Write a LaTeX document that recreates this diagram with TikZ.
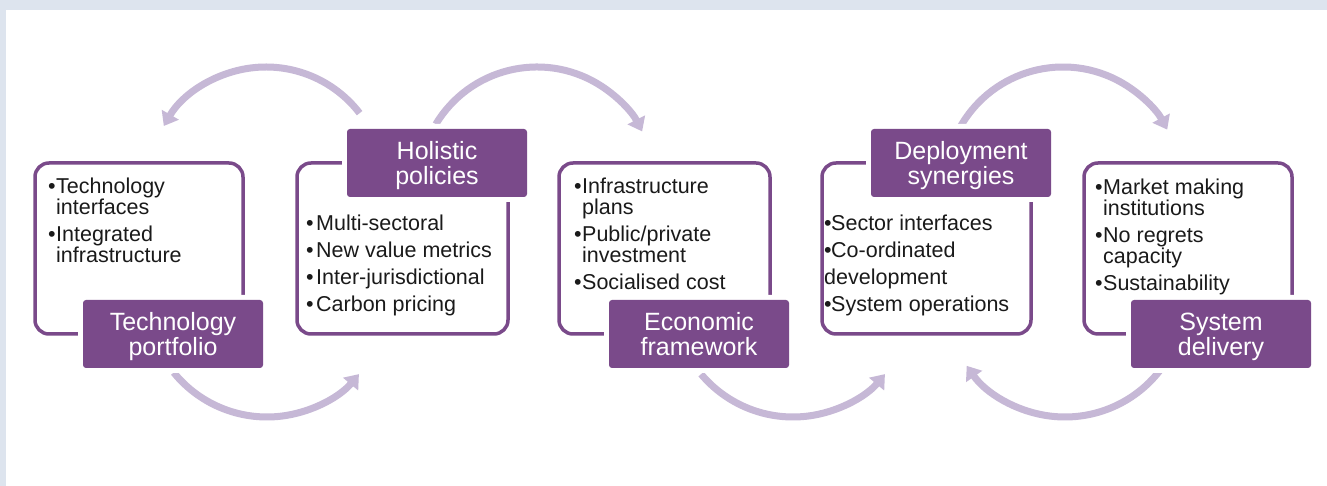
\documentclass[tikz,border=0pt]{standalone}
\usepackage{fontspec}
\setmainfont{Liberation Sans}
\usetikzlibrary{arrows.meta,calc}

\definecolor{plum}{RGB}{122,74,138}
\definecolor{lilac}{RGB}{198,184,214}
\definecolor{haze}{RGB}{221,228,238}
\definecolor{ink}{RGB}{26,26,26}

% bullet and hanging indent for the list lines
\newcommand{\dotitem}{\makebox[8pt][l]{•}}
\newcommand{\contd}{\hspace*{8pt}}

\begin{document}
\begin{tikzpicture}[x=1pt,y=1pt,line join=round,
  frame/.style={draw=plum,line width=3.5pt,rounded corners=14pt},
  tag/.style={fill=plum,preaction={draw=white,line width=10pt},rounded corners=3pt,
    minimum width=180pt,minimum height=68pt,inner sep=0pt,align=center,
    text=white,font=\fontsize{25}{25}\selectfont},
  body/.style={anchor=north west,inner sep=0pt,align=left,text=ink,
    font=\fontsize{21.5}{21}\selectfont},
  flow/.style={draw=lilac,line width=7pt,-{Triangle[width=19pt,length=13pt]}}]

\useasboundingbox (0,0) rectangle (1327,486);

% page background
\fill[haze] (0,0) rectangle (1327,486);
\fill[white] (6,0) rectangle (1327,476);

% centres of the curved arrows
\coordinate (c1) at (266,301);
\coordinate (c2) at (537,301);
\coordinate (c3) at (267,189);
\coordinate (c4) at (793,189);
\coordinate (c5) at (1063,301);
\coordinate (c6) at (1065,189);

% curved arrows between the stages
\draw[flow] ($(c1)+(37.5:118)$) arc[start angle=37.5,end angle=150,radius=118];
\draw[flow] ($(c2)+(149:118)$) arc[start angle=149,end angle=27,radius=118];
\draw[flow] ($(c3)+(-141:120)$) arc[start angle=-141,end angle=-40,radius=120];
\draw[flow] ($(c4)+(-140:120)$) arc[start angle=-140,end angle=-40,radius=120];
\draw[flow] ($(c5)+(150:118)$) arc[start angle=150,end angle=28,radius=118];
\draw[flow] ($(c6)+(-38:120)$) arc[start angle=-38,end angle=-145,radius=120];

% outline boxes
\draw[frame] (35,152) rectangle (243,323);
\draw[frame] (297,152) rectangle (508,323);
\draw[frame] (559,152) rectangle (770,323);
\draw[frame] (822,152) rectangle (1031,323);
\draw[frame] (1084,152) rectangle (1292,323);

% list texts
\node[body] (techtxt) at (48,308) {\dotitem Technology\\ \contd interfaces\\[6pt]
  \dotitem Integrated\\ \contd infrastructure};
\node[body] (holtxt) at (306,271) {\makebox[10pt][l]{•}Multi-sectoral\\[6pt]
  \makebox[10pt][l]{•}New value metrics\\[6pt]
  \makebox[10pt][l]{•}Inter-jurisdictional\\[6pt] \makebox[10pt][l]{•}Carbon pricing};
\node[body] (ecotxt) at (574,308) {\dotitem Infrastructure\\ \contd plans\\[6pt]
  \dotitem Public/private\\ \contd investment\\[6pt] \dotitem Socialised cost};
\node[body] (deptxt) at (824,271) {\makebox[7pt][l]{•}Sector interfaces\\[6pt]
  \makebox[7pt][l]{•}Co-ordinated\\[6pt] development\\[6pt] \makebox[7pt][l]{•}System operations};
\node[body] (systxt) at (1095,307) {\dotitem Market making\\ \contd institutions\\[6pt]
  \dotitem No regrets\\ \contd capacity\\[6pt] \dotitem Sustainability};

% stage labels
\node[tag] (tech) at (173,152) {Technology\\\smash{portfolio}};
\node[tag] (hol) at (437,323) {Holistic\\\smash{policies}};
\node[tag] (eco) at (699,152) {Economic\\\smash{framework}};
\node[tag] (dep) at (961,323) {Deployment\\\smash{synergies}};
\node[tag] (sys) at (1221,152) {System\\\smash{delivery}};

\end{tikzpicture}
\end{document}
